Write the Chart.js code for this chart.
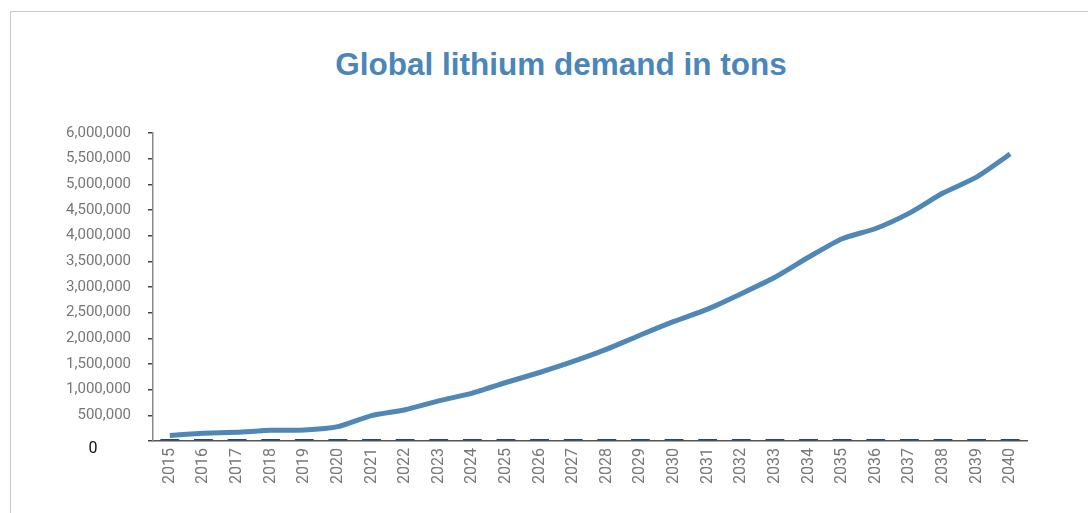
<!DOCTYPE html>
<html>
<head>
<meta charset="utf-8">
<script src="https://cdn.jsdelivr.net/npm/chart.js@4"></script>
<style>
    html, body { margin: 0; padding: 0; background: #fff; }
    body { width: 1088px; height: 513px; position: relative; overflow: hidden; }
    #frame {
        position: absolute; left: 10px; top: 11px;
        width: 1200px; height: 600px;
        border-top: 1px solid #c9c9c9; border-left: 1px solid #c9c9c9;
    }
    #title {
        position: absolute; left: 0; top: 48px; width: 1122px;
        text-align: center;
        font: bold 31.5px "Liberation Sans", Arial, sans-serif;
        line-height: 32px;
        color: #4a86b8;
    }
    #wrap { position: absolute; left: 0; top: 0; width: 1088px; height: 513px; }
</style>
</head>
<body>
<div id="frame"></div>
<div id="title">Global lithium demand in tons</div>
<div id="wrap"><canvas id="chart"></canvas></div>
<script>
    const years = ['2015', '2016', '2017', '2018', '2019', '2020', '2021', '2022', '2023',
        '2024', '2025', '2026', '2027', '2028', '2029', '2030', '2031', '2032', '2033',
        '2034', '2035', '2036', '2037', '2038', '2039', '2040'];

    // demand in tons
    const demand = [110000, 150000, 170000, 210000, 215000, 280000, 495000, 610000, 782000,
        932000, 1140000, 1335000, 1550000, 1790000, 2066000, 2330000, 2570000, 2870000,
        3190000, 3580000, 3940000, 4140000, 4440000, 4830000, 5140000, 5590000];

    // small second series sitting on the baseline
    const baseSeries = [40000, 40000, 40000, 40000, 40000, 40000, 40000, 40000, 40000,
        40000, 40000, 40000, 40000, 40000, 40000, 40000, 40000, 40000, 40000, 40000,
        40000, 40000, 40000, 40000, 40000, 40000];

    const yMax = 6000000;
    const yStep = 500000;

    // the zero label is drawn on its own, lower and darker than the rest
    const zeroLabel = {
        id: 'zeroLabel',
        afterDraw(chart) {
            const y = chart.scales.y;
            const ctx = chart.ctx;
            ctx.save();
            ctx.font = '16px Roboto';
            ctx.fillStyle = '#111';
            ctx.textAlign = 'center';
            ctx.textBaseline = 'middle';
            ctx.fillText('0', 93, y.getPixelForValue(0) + 8);
            ctx.restore();
        }
    };

    new Chart(document.getElementById('chart'), {
        data: {
            labels: years,
            datasets: [{
                type: 'line',
                data: demand,
                borderColor: '#4f87b6',
                borderWidth: 5,
                pointRadius: 0,
                tension: 0.2,
                fill: false,
                order: 0
            }, {
                type: 'bar',
                data: baseSeries,
                backgroundColor: '#24477a',
                barPercentage: 0.56,
                categoryPercentage: 1,
                order: 1
            }]
        },
        options: {
            responsive: true,
            maintainAspectRatio: false,
            animation: false,
            layout: { padding: { left: 0, right: 61, top: 133, bottom: 22 } },
            plugins: { legend: { display: false }, tooltip: { enabled: false }, title: { display: false } },
            scales: {
                x: {
                    offset: true,
                    grid: { display: false, drawTicks: false },
                    border: { display: true, color: '#555', width: 1.5 },
                    ticks: {
                        color: '#777',
                        font: { family: 'Roboto', size: 16 },
                        minRotation: 90,
                        maxRotation: 90,
                        padding: 7,
                        autoSkip: false
                    }
                },
                y: {
                    min: 0,
                    max: yMax,
                    afterFit(scale) { scale.width = 153; },
                    grid: { drawOnChartArea: false, drawTicks: true, tickLength: 5, color: '#444', lineWidth: 1.5 },
                    border: { display: true, color: '#888', width: 1.5 },
                    ticks: {
                        stepSize: yStep,
                        color: '#777',
                        font: { family: 'Roboto', size: 15 },
                        padding: 17,
                        callback: v => v === 0 ? '' : v.toLocaleString('en-US')
                    }
                }
            }
        },
        plugins: [zeroLabel]
    });
</script>
</body>
</html>
